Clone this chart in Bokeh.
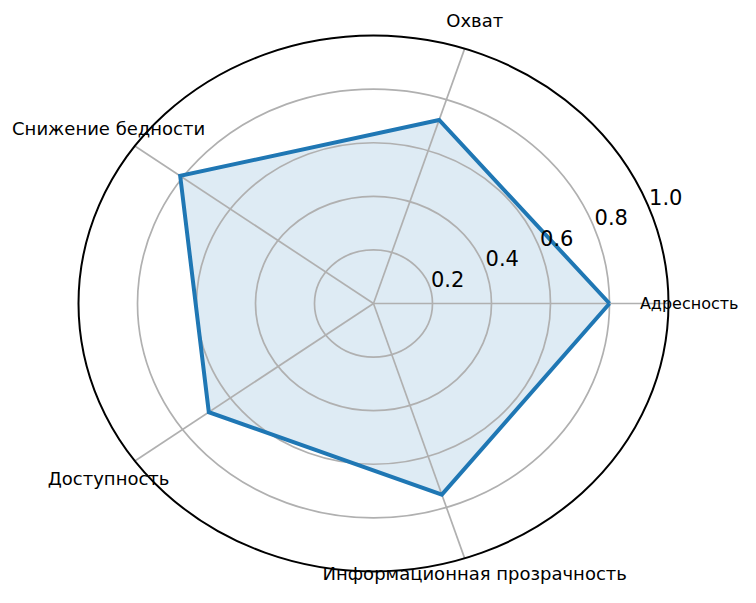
import numpy as np
from bokeh.plotting import figure
from bokeh.models import Range1d, ColumnDataSource
from bokeh.core.properties import value
from bokeh.embed import file_html
from bokeh.resources import INLINE

categories = ["Адресность", "Охват", "Снижение бедности", "Доступность", "Информационная прозрачность"]
scores = [0.80, 0.72, 0.81, 0.69, 0.75]
r_ticks = [0.2, 0.4, 0.6, 0.8, 1.0]
r_tick_labels = ["0.2", "0.4", "0.6", "0.8", "1.0"]

FONT = value("DejaVu Sans")
n = len(categories)
theta = np.arange(n) * 2 * np.pi / n

W, H = 740, 587
CX, CY = 373, 303      # centre in pixels from top-left
SX, SY = 295, 268      # pixels per unit radius

p = figure(width=W, height=H, output_backend="svg", toolbar_location=None,
           x_range=Range1d(-CX / SX, (W - CX) / SX), y_range=Range1d(-(H - CY) / SY, CY / SY),
           min_border=0, outline_line_color=None)
p.axis.visible = False
p.grid.visible = False
p.background_fill_color = "white"

# filled area
xs = [s * np.cos(t) for s, t in zip(scores, theta)]
ys = [s * np.sin(t) for s, t in zip(scores, theta)]
p.patch(xs, ys, fill_color="#1f77b4", fill_alpha=0.15, line_color=None)

# grid circles
for r in r_ticks[:-1]:
    p.ellipse(x=0, y=0, width=2 * r, height=2 * r, fill_color=None,
              line_color="#b0b0b0", line_width=1.7)
# spokes
p.segment(x0=[0] * n, y0=[0] * n, x1=list(np.cos(theta)), y1=list(np.sin(theta)),
          line_color="#b0b0b0", line_width=1.7)
# outer frame circle
p.ellipse(x=0, y=0, width=2.0, height=2.0, fill_color=None, line_color="black", line_width=2)

# series outline
p.line(xs + [xs[0]], ys + [ys[0]], line_color="#1f77b4", line_width=4, line_join="miter")

# radial tick labels
a = np.deg2rad(22.5)
p.text(x=[r * np.cos(a) for r in r_ticks], y=[r * np.sin(a) for r in r_ticks], text=r_tick_labels,
       text_font=FONT, text_font_size="21px", text_align="left", text_baseline="alphabetic",
       x_offset=3, y_offset=-4, text_color="black")

# category labels (first one right-aligned at the edge so it stays visible)
R = 1.11
p.text(x=[(W - CX) / SX], y=[0], text=[categories[0]], x_offset=-2,
       text_font=FONT, text_font_size="16px", text_align="right", text_baseline="middle",
       text_color="black")
lab = ColumnDataSource(dict(x=list(R * np.cos(theta[1:])), y=list(R * np.sin(theta[1:])),
                            text=categories[1:], yoff=[0, 0, 0, -13]))
p.text(x="x", y="y", text="text", y_offset="yoff", source=lab,
       text_font=FONT, text_font_size="18px", text_align="center", text_baseline="middle",
       text_color="black")

open("out.html", "w").write(file_html(p, INLINE))
